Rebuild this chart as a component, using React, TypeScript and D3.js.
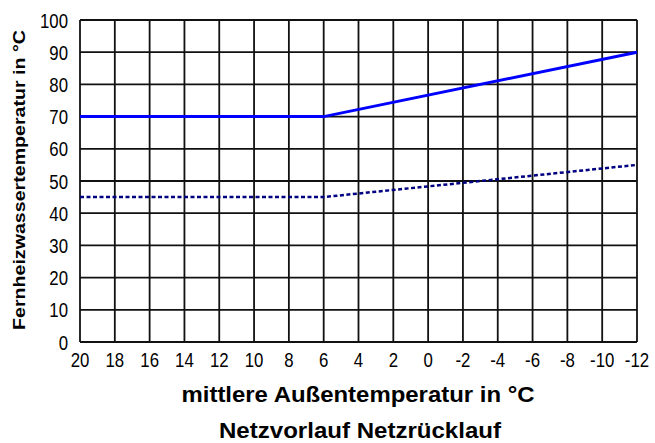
import { useEffect, useRef } from "react";
import * as d3 from "d3";

// outdoor temperature (°C) breakpoints
const outdoor = [20, 6, -12];
const vorlauf = [70, 70, 90];
const ruecklauf = [45, 45, 55];
const xTicks = [20, 18, 16, 14, 12, 10, 8, 6, 4, 2, 0, -2, -4, -6, -8, -10, -12];
const yTicks = [0, 10, 20, 30, 40, 50, 60, 70, 80, 90, 100];

const App = () => {
  const ref = useRef<SVGSVGElement>(null);

  useEffect(() => {
    const width = 655, height = 443;
    const left = 80, right = 637, top = 20, bottom = 342;

    const svg = d3.select(ref.current)
      .html("")
      .attr("width", width)
      .attr("height", height)
      .style("display", "block")
      .style("background", "#fff");

    const x = d3.scaleLinear().domain([20, -12]).range([left, right]);
    const y = d3.scaleLinear().domain([0, 100]).range([bottom, top]);

    const font = "'Liberation Sans', Arial, sans-serif";

    // grid
    const grid = svg.append("g").attr("stroke", "#111").attr("stroke-width", 1.8);
    grid.selectAll("line.v")
      .data(xTicks)
      .enter()
      .append("line")
      .attr("class", "v")
      .attr("x1", d => x(d)).attr("x2", d => x(d))
      .attr("y1", top).attr("y2", bottom);
    grid.selectAll("line.h")
      .data(yTicks)
      .enter()
      .append("line")
      .attr("class", "h")
      .attr("x1", left).attr("x2", right)
      .attr("y1", d => y(d)).attr("y2", d => y(d));

    // tick labels, narrow like the original
    svg.append("g")
      .selectAll("text")
      .data(yTicks)
      .enter()
      .append("text")
      .attr("transform", d => `translate(${left - 12}, ${y(d) + 7.5}) scale(0.8, 1)`)
      .attr("text-anchor", "end")
      .style("font-family", font)
      .style("font-size", "21px")
      .text(d => d);

    svg.append("g")
      .selectAll("text")
      .data(xTicks)
      .enter()
      .append("text")
      .attr("transform", d => `translate(${x(d)}, ${bottom + 25}) scale(0.8, 1)`)
      .attr("text-anchor", "middle")
      .style("font-family", font)
      .style("font-size", "21px")
      .text(d => d);

    const line = d3.line<number>()
      .x((_, i) => x(outdoor[i]))
      .y(d => y(d));

    svg.append("path")
      .attr("d", line(vorlauf))
      .attr("fill", "none")
      .attr("stroke", "#0000ff")
      .attr("stroke-width", 3);

    svg.append("path")
      .attr("d", line(ruecklauf))
      .attr("fill", "none")
      .attr("stroke", "#000080")
      .attr("stroke-width", 2.5)
      .attr("stroke-dasharray", "4 2.5");

    // titles
    svg.append("text")
      .attr("transform", `translate(25, 180) rotate(-90)`)
      .attr("text-anchor", "middle")
      .attr("textLength", 300)
      .attr("lengthAdjust", "spacingAndGlyphs")
      .style("font-family", font)
      .style("font-size", "16px")
      .style("font-weight", "bold")
      .text("Fernheizwassertemperatur in °C");

    svg.append("text")
      .attr("x", 358)
      .attr("y", 402)
      .attr("text-anchor", "middle")
      .attr("textLength", 353)
      .attr("lengthAdjust", "spacingAndGlyphs")
      .style("font-family", font)
      .style("font-size", "22px")
      .style("font-weight", "bold")
      .text("mittlere Außentemperatur in °C");

    svg.append("text")
      .attr("x", 360)
      .attr("y", 438)
      .attr("text-anchor", "middle")
      .attr("textLength", 282)
      .attr("lengthAdjust", "spacingAndGlyphs")
      .style("font-family", font)
      .style("font-size", "22px")
      .style("font-weight", "bold")
      .text("Netzvorlauf Netzrücklauf");
  }, []);

  return <svg ref={ref} style={{ position: "absolute", left: 0, top: 0 }}></svg>;
};

export default App;
